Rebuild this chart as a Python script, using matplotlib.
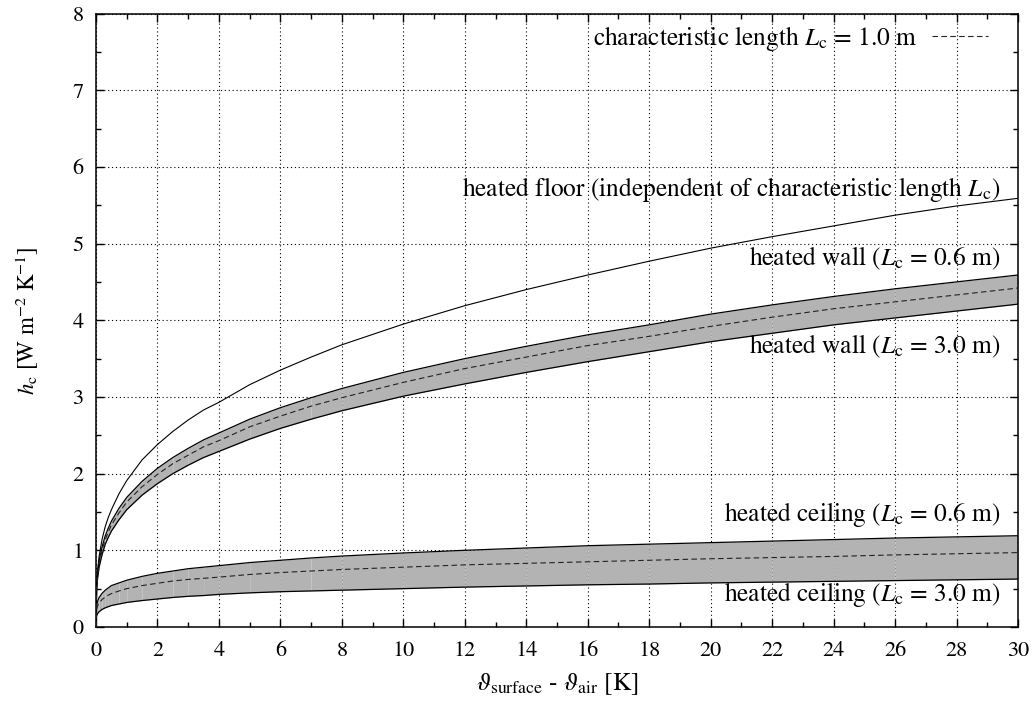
import matplotlib
matplotlib.use('Agg')
import matplotlib.pyplot as plt
from matplotlib.ticker import MultipleLocator

plt.rcParams['font.family'] = 'STIXGeneral'
plt.rcParams['mathtext.fontset'] = 'stix'

# temperature difference surface - air [K]
dT = [0, 0.02, 0.05, 0.1, 0.2, 0.3, 0.4, 0.5, 0.75, 1, 1.5, 2, 2.5, 3, 3.5, 4, 5, 6, 7, 8,
      10, 12, 14, 16, 18, 20, 22, 24, 26, 28, 30]

# convective heat transfer coefficient h_c [W m-2 K-1]
floor = [0, 0.55, 0.74, 0.92, 1.15, 1.31, 1.43, 1.53, 1.74, 1.91, 2.18, 2.38, 2.55, 2.70, 2.83,
         2.93, 3.16, 3.35, 3.52, 3.68, 3.95, 4.19, 4.40, 4.59, 4.77, 4.94, 5.09, 5.23, 5.37,
         5.49, 5.59]
wall_06 = [0, 0.54, 0.70, 0.86, 1.05, 1.19, 1.29, 1.38, 1.55, 1.69, 1.90, 2.07, 2.21, 2.33, 2.44,
           2.53, 2.71, 2.86, 2.99, 3.11, 3.32, 3.50, 3.66, 3.81, 3.94, 4.08, 4.20, 4.31, 4.41,
           4.50, 4.59]
wall_10 = [0, 0.52, 0.67, 0.83, 1.01, 1.14, 1.24, 1.33, 1.49, 1.63, 1.83, 1.99, 2.13, 2.24, 2.35,
           2.43, 2.61, 2.75, 2.88, 2.99, 3.19, 3.37, 3.52, 3.67, 3.79, 3.92, 4.04, 4.15, 4.24,
           4.33, 4.42]
wall_30 = [0, 0.49, 0.63, 0.78, 0.95, 1.08, 1.17, 1.25, 1.40, 1.53, 1.72, 1.87, 2.00, 2.11, 2.21,
           2.29, 2.45, 2.59, 2.71, 2.82, 3.01, 3.17, 3.32, 3.46, 3.59, 3.72, 3.83, 3.94, 4.03,
           4.12, 4.21]
ceil_06 = [0, 0.28, 0.335, 0.385, 0.44, 0.48, 0.51, 0.54, 0.575, 0.61, 0.66, 0.70, 0.73, 0.76,
           0.78, 0.80, 0.84, 0.87, 0.90, 0.925, 0.965, 1.00, 1.03, 1.06, 1.08, 1.10, 1.12, 1.14,
           1.16, 1.175, 1.19]
ceil_10 = [0, 0.23, 0.275, 0.315, 0.36, 0.39, 0.415, 0.435, 0.47, 0.50, 0.54, 0.57, 0.60, 0.62,
           0.635, 0.65, 0.685, 0.71, 0.73, 0.75, 0.78, 0.81, 0.83, 0.85, 0.87, 0.89, 0.905, 0.92,
           0.94, 0.955, 0.97]
ceil_30 = [0, 0.145, 0.175, 0.20, 0.23, 0.25, 0.265, 0.28, 0.30, 0.32, 0.345, 0.365, 0.385, 0.40,
           0.41, 0.425, 0.445, 0.46, 0.47, 0.48, 0.50, 0.52, 0.535, 0.55, 0.56, 0.575, 0.585,
           0.595, 0.605, 0.615, 0.625]

fs = 18.3     # annotation text
fs_tick = 16

fig = plt.figure(figsize=(10.36, 7.04), dpi=100)
ax = fig.add_axes([0.0927, 0.1094, 0.8899, 0.8714])

# gray bands between L_c = 0.6 m and L_c = 3.0 m, filled piece by piece
for lo, hi in [(wall_30, wall_06), (ceil_30, ceil_06)]:
    for i in range(len(dT) - 1):
        ax.fill_between(dT[i:i + 2], lo[i:i + 2], hi[i:i + 2],
                        color='#b3b3b3', lw=0, zorder=1)
    ax.plot(dT, lo, color='black', lw=0.9, zorder=3)
    ax.plot(dT, hi, color='black', lw=0.9, zorder=3)

ax.plot(dT, floor, color='black', lw=0.8, zorder=3)
ax.plot(dT, wall_10, color='#222222', lw=0.8, dashes=(5, 3), zorder=3,
        label=r'characteristic length $L_\mathrm{c}$ = 1.0 m')
ax.plot(dT, ceil_10, color='#222222', lw=0.8, dashes=(5, 3), zorder=3)

ax.set_xlim(0, 30)
ax.set_ylim(0, 8)
ax.xaxis.set_major_locator(MultipleLocator(2))
ax.xaxis.set_minor_locator(MultipleLocator(1))
ax.yaxis.set_major_locator(MultipleLocator(1))
ax.yaxis.set_minor_locator(MultipleLocator(0.5))
ax.tick_params(which='both', direction='in', top=True, right=True,
               labelsize=fs_tick, width=1)
ax.tick_params(which='major', length=6)
ax.tick_params(axis='x', which='major', pad=10)
ax.tick_params(axis='y', which='major', pad=9)
ax.tick_params(which='minor', length=3.5)
for s in ax.spines.values():
    s.set_linewidth(1.1)
ax.set_axisbelow(True)
ax.grid(which='major', color='black', ls=(0, (1, 2.5)), lw=0.8)

ax.set_xlabel(r'$\vartheta_\mathrm{surface}$ - $\vartheta_\mathrm{air}$ [K]', fontsize=fs)
ax.set_ylabel(r'$h_\mathrm{c}$ [W m$^{-2}$ K$^{-1}$]', fontsize=16.5)
ax.xaxis.set_label_coords(0.5, -0.072)
ax.yaxis.set_label_coords(-0.061, 0.5)

xr = 29.42
ax.text(xr, 5.62, r'heated floor (independent of characteristic length $L_\mathrm{c}$)',
        ha='right', va='baseline', fontsize=fs)
ax.text(xr, 4.72, r'heated wall ($L_\mathrm{c}$ = 0.6 m)', ha='right', va='baseline', fontsize=fs)
ax.text(xr, 3.57, r'heated wall ($L_\mathrm{c}$ = 3.0 m)', ha='right', va='baseline', fontsize=fs)
ax.text(xr, 1.38, r'heated ceiling ($L_\mathrm{c}$ = 0.6 m)', ha='right', va='baseline', fontsize=fs)
ax.text(xr, 0.34, r'heated ceiling ($L_\mathrm{c}$ = 3.0 m)', ha='right', va='baseline', fontsize=fs)

ax.legend(loc='upper right', bbox_to_anchor=(0.9675, 0.983), borderaxespad=0, borderpad=0,
          markerfirst=False, frameon=False, fontsize=fs, handlelength=2.2, handletextpad=0.6)

fig.savefig('out.png', dpi=100)
